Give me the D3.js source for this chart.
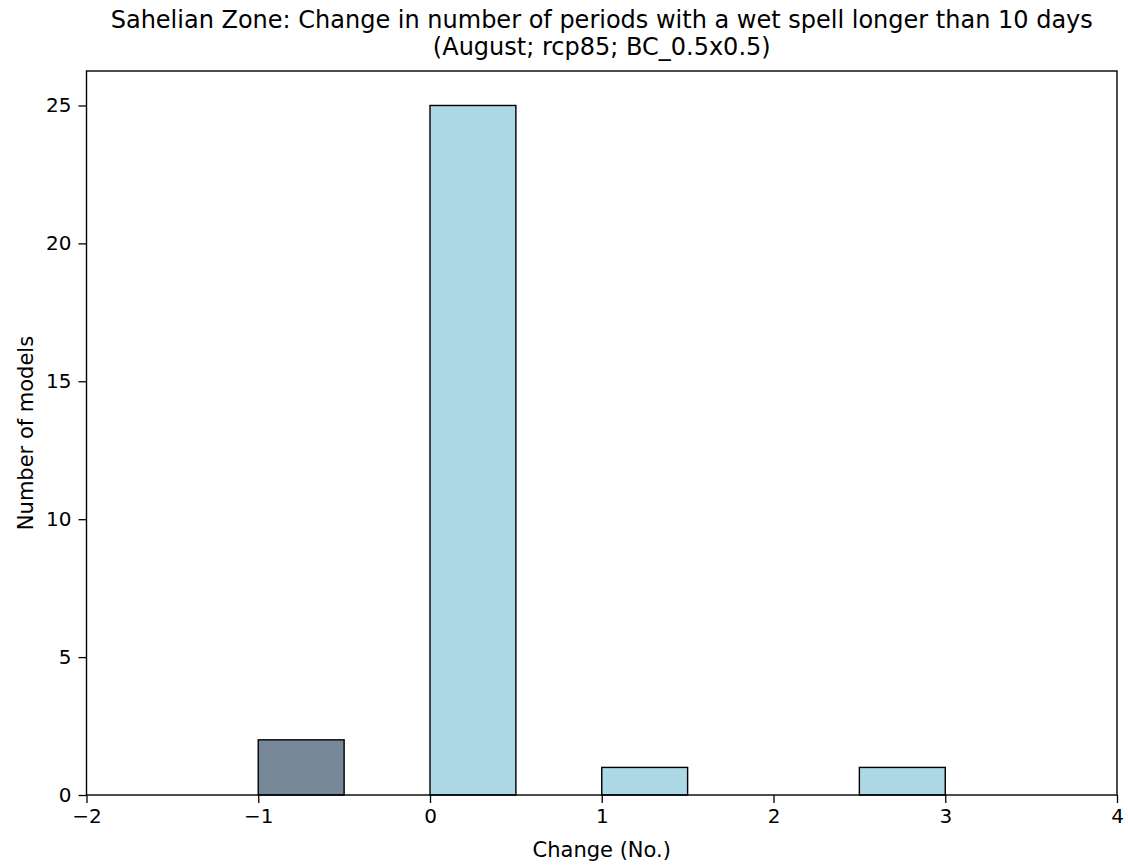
<!DOCTYPE html>
<html><head><meta charset="utf-8">
<script src="https://cdn.jsdelivr.net/npm/d3@7"></script>
<style>body{margin:0;background:#fff}svg{display:block}text{font-family:"DejaVu Sans",sans-serif;fill:#000}</style>
</head><body>
<script>
const binStarts = [-1, 0, 1, 2.5];
const binWidth = 0.5;
const counts = [2, 25, 1, 1];
const barColors = ["#778899", "#add8e6", "#add8e6", "#add8e6"];
const xTicks = [-2, -1, 0, 1, 2, 3, 4];
const yTicks = [0, 5, 10, 15, 20, 25];
const titleLines = ["Sahelian Zone: Change in number of periods with a wet spell longer than 10 days", "(August; rcp85; BC_0.5x0.5)"];
const xLabel = "Change (No.)";
const yLabel = "Number of models";

const W = 1128, H = 865;
const m = {l: 86.5, r: 1117, t: 71, b: 795};
const svg = d3.select("body").append("svg").attr("width", W).attr("height", H);
const x = d3.scaleLinear().domain([-2, 4]).range([m.l, m.r]);
const y = d3.scaleLinear().domain([0, 26.25]).range([m.b, m.t]);

svg.append("g").selectAll("rect").data(counts).join("rect")
  .attr("x", (d, i) => x(binStarts[i]))
  .attr("width", (d, i) => x(binStarts[i] + binWidth) - x(binStarts[i]))
  .attr("y", d => y(d))
  .attr("height", d => y(0) - y(d))
  .attr("fill", (d, i) => barColors[i])
  .attr("stroke", "#000").attr("stroke-width", 1.4);

const fmt = d => d < 0 ? "\u2212" + Math.abs(d) : String(d);
const xa = svg.append("g").attr("transform", `translate(0,${m.b})`)
  .call(d3.axisBottom(x).tickValues(xTicks).tickFormat(fmt).tickSize(8).tickPadding(6));
const ya = svg.append("g").attr("transform", `translate(${m.l},0)`)
  .call(d3.axisLeft(y).tickValues(yTicks).tickSize(8).tickPadding(7));
[xa, ya].forEach(a => {
  a.select(".domain").remove();
  a.selectAll("line").attr("stroke", "#000").attr("stroke-width", 1.3);
  a.selectAll("text").attr("font-size", 20).attr("font-family", "DejaVu Sans").attr("fill", "#000");
});

svg.append("rect").attr("x", m.l).attr("y", m.t).attr("width", m.r - m.l).attr("height", m.b - m.t)
  .attr("fill", "none").attr("stroke", "#000").attr("stroke-width", 1.4);

const cx = (m.l + m.r) / 2;
svg.append("text").attr("x", cx).attr("y", 28).attr("text-anchor", "middle").attr("font-size", 24).text(titleLines[0]);
svg.append("text").attr("x", cx).attr("y", 55).attr("text-anchor", "middle").attr("font-size", 24).text(titleLines[1]);
svg.append("text").attr("x", cx).attr("y", 857).attr("text-anchor", "middle").attr("font-size", 21).text(xLabel);
svg.append("text").attr("transform", `translate(33,${(m.t + m.b) / 2}) rotate(-90)`).attr("text-anchor", "middle").attr("font-size", 21).text(yLabel);
</script>
</body></html>
